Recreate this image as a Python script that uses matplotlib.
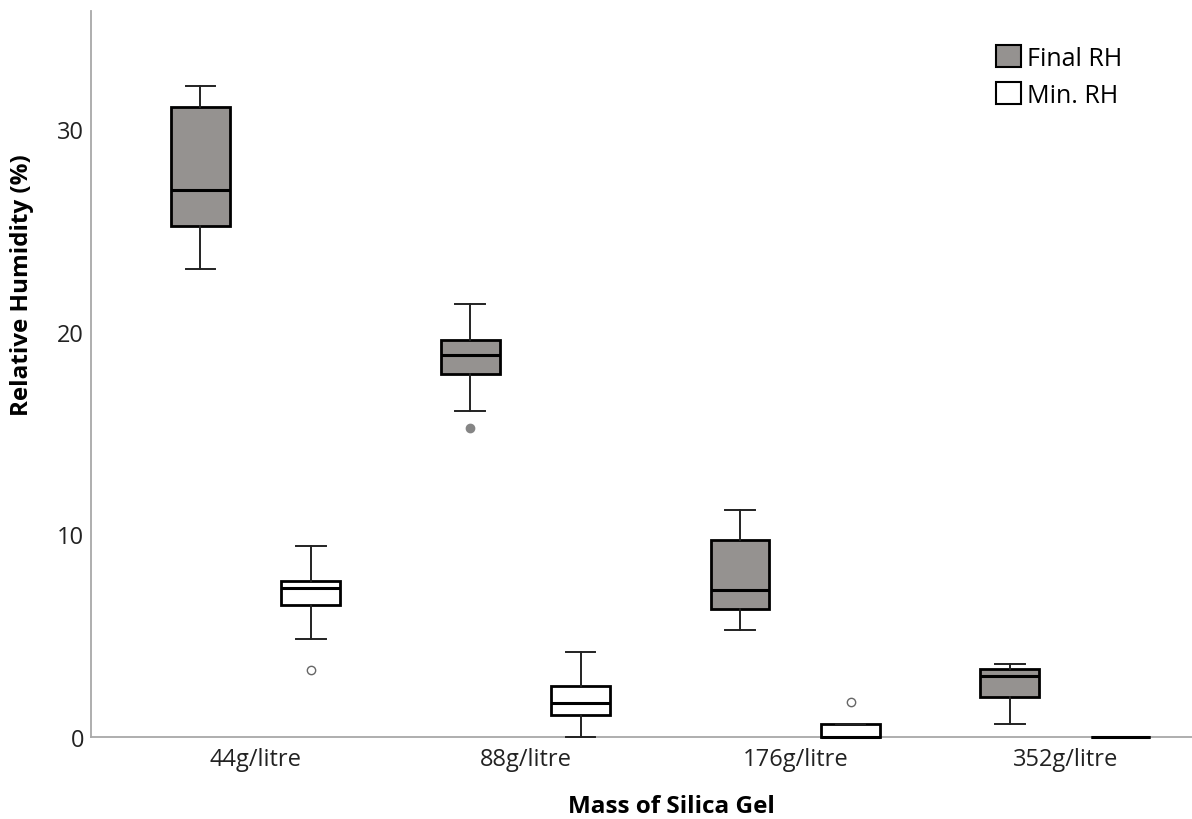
import matplotlib.pyplot as plt
from matplotlib.patches import Patch

plt.rcParams['font.family'] = ['Open Sans', 'DejaVu Sans']

groups = ['44g/litre', '88g/litre', '176g/litre', '352g/litre']

# box statistics: low whisker, Q1, median, Q3, high whisker
final_lo = [23.1, 16.1, 5.3, 0.64]
final_q1 = [25.2, 17.9, 6.3, 1.97]
final_med = [27.0, 18.85, 7.25, 3.0]
final_q3 = [31.1, 19.6, 9.7, 3.35]
final_hi = [32.1, 21.35, 11.2, 3.6]
final_out = [[], [15.25], [], []]

min_lo = [4.85, 0.0, 0.0, 0.0]
min_q1 = [6.5, 1.08, 0.0, 0.0]
min_med = [7.35, 1.68, 0.0, 0.0]
min_q3 = [7.7, 2.52, 0.64, 0.0]
min_hi = [9.4, 4.2, 0.0, 0.0]
min_out = [[3.3], [], [1.73], []]


def make_stats(lo, q1, med, q3, hi, out):
    stats = []
    for i in range(len(lo)):
        stats.append(dict(whislo=lo[i], q1=q1[i], med=med[i], q3=q3[i],
                          whishi=max(hi[i], q3[i]), fliers=out[i]))
    return stats


def unclip(parts):
    for key in parts:
        for artist in parts[key]:
            artist.set_clip_on(False)


fig = plt.figure(figsize=(11.92, 8.20), dpi=100)
ax = fig.add_axes([0.0763, 0.1, 0.9237, 0.885])

pos = list(range(len(groups)))
offset = 0.205
w = 0.218

b1 = ax.bxp(make_stats(final_lo, final_q1, final_med, final_q3, final_hi, final_out),
            positions=[p - offset for p in pos], widths=w, patch_artist=True, zorder=3,
            boxprops=dict(facecolor='#959290', edgecolor='black', linewidth=2),
            medianprops=dict(color='black', linewidth=2.2),
            whiskerprops=dict(color='#222222', linewidth=1.4),
            capprops=dict(color='#222222', linewidth=1.4), capwidths=w * 0.5,
            flierprops=dict(marker='o', markerfacecolor='#858585',
                            markeredgecolor='#858585', markersize=6))

b2 = ax.bxp(make_stats(min_lo, min_q1, min_med, min_q3, min_hi, min_out),
            positions=[p + offset for p in pos], widths=w, patch_artist=True, zorder=3,
            boxprops=dict(facecolor='white', edgecolor='black', linewidth=2),
            medianprops=dict(color='black', linewidth=2.2),
            whiskerprops=dict(color='#222222', linewidth=1.4),
            capprops=dict(color='#222222', linewidth=1.4), capwidths=w * 0.5,
            flierprops=dict(marker='o', markerfacecolor='white',
                            markeredgecolor='#666666', markersize=6))
unclip(b1)
unclip(b2)

ax.set_xlim(-0.61, 3.47)
ax.set_ylim(0, 35.8)
ax.set_xticks(pos)
ax.set_xticklabels(groups)
ax.set_yticks([0, 10, 20, 30])
ax.tick_params(length=0, labelsize=17, colors='#222222')
ax.tick_params(axis='y', pad=5)
ax.tick_params(axis='x', pad=7)

for s in ['top', 'right']:
    ax.spines[s].set_visible(False)
for s in ['left', 'bottom']:
    ax.spines[s].set_color('#a8a8a8')
    ax.spines[s].set_linewidth(1.3)

ax.set_xlabel('Mass of Silica Gel', fontsize=17.5, fontweight='bold')
ax.set_ylabel('Relative Humidity (%)', fontsize=17.5, fontweight='bold')
ax.xaxis.set_label_coords(0.527, -0.078)
ax.yaxis.set_label_coords(-0.052, 0.624)

handles = [Patch(facecolor='#959290', edgecolor='black', linewidth=1.5, label='Final RH'),
           Patch(facecolor='white', edgecolor='black', linewidth=1.5, label='Min. RH')]
ax.legend(handles=handles, loc='upper left', bbox_to_anchor=(0.8356, 0.944),
          bbox_transform=fig.transFigure, borderpad=0, borderaxespad=0,
          frameon=False, fontsize=18, handlelength=1.0, handleheight=1.0,
          handletextpad=0.25, labelspacing=0.45)

fig.savefig('out.png', dpi=100)
